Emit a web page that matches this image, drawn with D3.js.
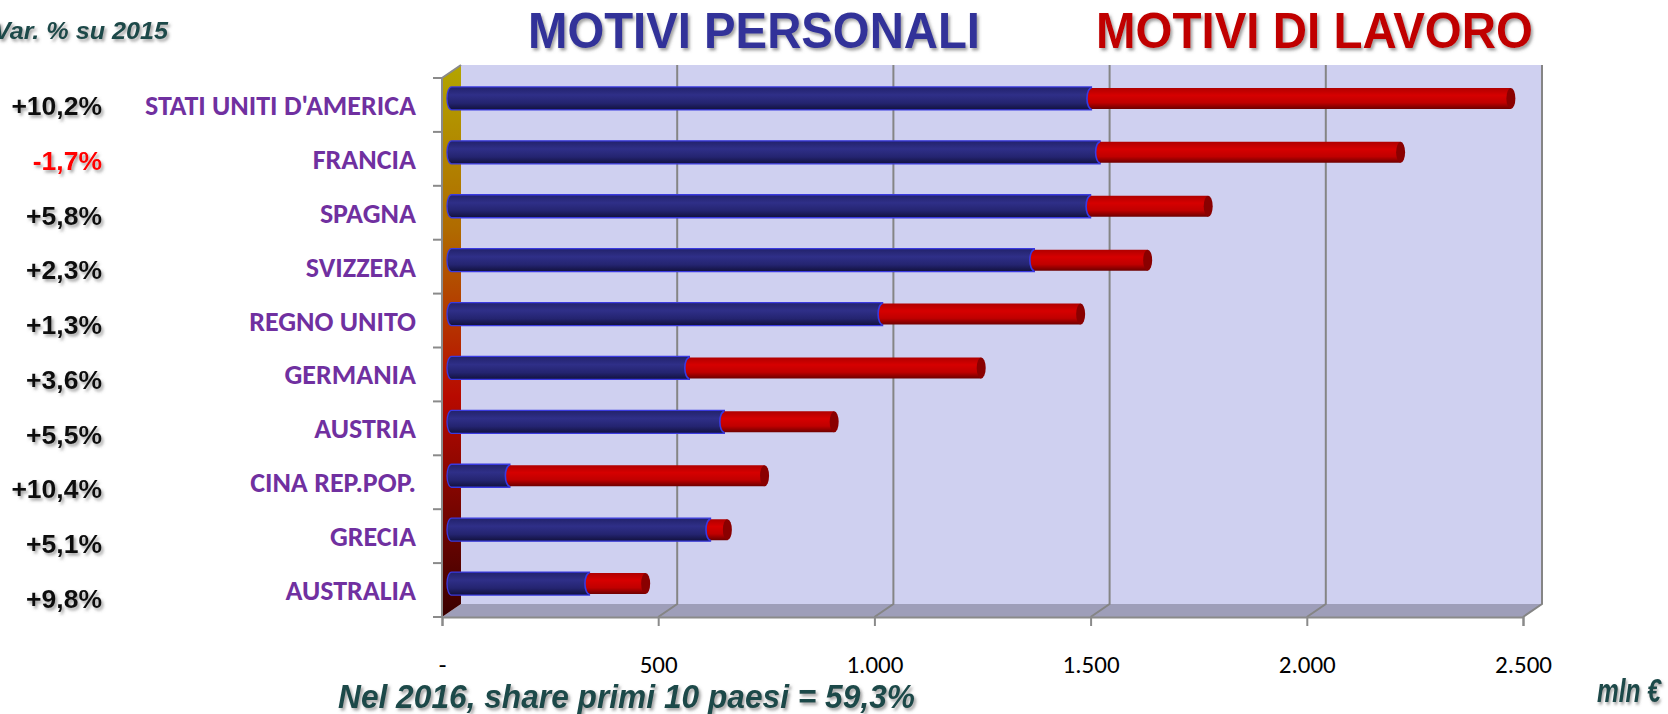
<!DOCTYPE html>
<html>
<head>
<meta charset="utf-8">
<script src="https://cdn.jsdelivr.net/npm/d3@7"></script>
<style>
	body { margin: 0; background: #fff; }
	svg { display: block; }
</style>
</head>
<body>
<svg id="chart" width="1668" height="714"></svg>
<script>
// Data (mln €)
const countries = ["STATI UNITI D'AMERICA", "FRANCIA", "SPAGNA", "SVIZZERA", "REGNO UNITO", "GERMANIA", "AUSTRIA", "CINA REP.POP.", "GRECIA", "AUSTRALIA"];
const personal = [1480, 1500, 1478, 1348, 997, 550, 631, 135, 599, 319];
const work = [970, 695, 272, 262, 458, 675, 254, 589, 39, 130];
const changes = ["+10,2%", "-1,7%", "+5,8%", "+2,3%", "+1,3%", "+3,6%", "+5,5%", "+10,4%", "+5,1%", "+9,8%"];
const tickValues = [0, 500, 1000, 1500, 2000, 2500];

const rows = countries.map((c, i) => ({ country: c, personal: personal[i], work: work[i], change: changes[i] }));

const svg = d3.select("#chart");

// 3d box geometry
const depthX = 19, depthY = -13;
const floorY = 617, topY = 78;

const x = d3.scaleLinear().domain([0, 2500]).range([442, 1523]);
const y = d3.scaleBand().domain(countries).range([topY, floorY]);
const yPct = d3.scalePoint().domain(countries).range([106, 599]);

const itLocale = d3.formatLocale({ decimal: ",", thousands: ".", grouping: [3], currency: ["", " €"] });
const fmt = (v) => (v === 0 ? "-" : itLocale.format(",")(v));

const defs = svg.append("defs");

const shadow = defs.append("filter").attr("id", "shadow").attr("x", "-10%").attr("y", "-20%").attr("width", "130%").attr("height", "160%");
shadow.append("feDropShadow").attr("dx", 2).attr("dy", 2.5).attr("stdDeviation", 1.5)
	.attr("flood-color", "#555").attr("flood-opacity", 0.55);

const sideGrad = defs.append("linearGradient").attr("id", "sideGrad").attr("x1", 0).attr("y1", 0).attr("x2", 0).attr("y2", 1);
[["0%", "#b3a500"], ["30%", "#b06a00"], ["60%", "#b80a00"], ["100%", "#3a0000"]].forEach(([o, c]) =>
	sideGrad.append("stop").attr("offset", o).attr("stop-color", c));

function cylGrad(id, stops) {
	const g = defs.append("linearGradient").attr("id", id).attr("x1", 0).attr("y1", 0).attr("x2", 0).attr("y2", 1);
	stops.forEach(([o, c]) => g.append("stop").attr("offset", o).attr("stop-color", c));
}
cylGrad("blueGrad", [["0%", "#22226a"], ["35%", "#2f2f88"], ["70%", "#242470"], ["100%", "#11113c"]]);
cylGrad("redGrad", [["0%", "#b00000"], ["35%", "#d60000"], ["70%", "#c00000"], ["100%", "#6e0000"]]);

// back wall
svg.append("rect")
	.attr("x", x(0) + depthX).attr("y", topY + depthY)
	.attr("width", x(2500) - x(0)).attr("height", floorY - topY)
	.attr("fill", "#cfd0f0");

// floor
svg.append("polygon")
	.attr("points", [[x(0), floorY], [x(0) + depthX, floorY + depthY], [x(2500) + depthX, floorY + depthY], [x(2500), floorY]].join(" "))
	.attr("fill", "#9e9eb9");

// side wall
svg.append("polygon")
	.attr("points", [[x(0), topY], [x(0) + depthX, topY + depthY], [x(0) + depthX, floorY + depthY], [x(0), floorY]].join(" "))
	.attr("fill", "url(#sideGrad)");

// gridlines on the back wall and across the floor
const grid = svg.append("g").attr("stroke", "#858585").attr("stroke-width", 2).attr("fill", "none");
grid.selectAll("path")
	.data(tickValues.slice(1))
	.enter()
	.append("path")
	.attr("d", (d) => `M${x(d) + depthX},${topY + depthY}V${floorY + depthY}L${x(d)},${floorY}`);

// outline of walls
svg.append("path")
	.attr("d", `M${x(0)},${floorY}V${topY}L${x(0) + depthX},${topY + depthY}`)
	.attr("stroke", "#8a8a8a").attr("stroke-width", 2).attr("fill", "none");

// front axis (bottom)
const xAxis = d3.axisBottom(x).tickValues(tickValues).tickFormat(fmt).tickSize(9).tickPadding(29);
const gx = svg.append("g").attr("transform", `translate(0,${floorY})`).call(xAxis);
gx.select(".domain").attr("stroke", "#8a8a8a").attr("stroke-width", 2);
gx.selectAll(".tick line").attr("stroke", "#8a8a8a").attr("stroke-width", 2);
gx.selectAll(".tick text")
	.attr("font-family", "Carlito, Lato, sans-serif").attr("font-size", 25).attr("fill", "#000");

// category ticks on the left edge
svg.append("g").selectAll("line")
	.data(countries.concat(["_end"]))
	.enter()
	.append("line")
	.attr("x1", x(0) - 9).attr("x2", x(0))
	.attr("y1", (d, i) => topY + i * y.step())
	.attr("y2", (d, i) => topY + i * y.step())
	.attr("stroke", "#8a8a8a").attr("stroke-width", 2);

// bars as cylinders, sitting half way in depth
const midX = (v) => x(v) + depthX / 2;
const barH = 23;
const rx = 4.5;
const barY = (d) => y(d.country) + y.bandwidth() / 2 + depthY / 2;

const bars = svg.append("g").selectAll("g")
	.data(rows)
	.enter()
	.append("g");

// blue body with rounded left end
bars.append("path")
	.attr("d", (d) => {
		const x0 = midX(0), x1 = midX(d.personal), t = barY(d) - barH / 2, b = barY(d) + barH / 2;
		return `M${x1},${t}H${x0}A${rx},${barH / 2} 0 0 0 ${x0},${b}H${x1}Z`;
	})
	.attr("fill", "url(#blueGrad)").attr("stroke", "#3a3ae0").attr("stroke-width", 1.3);

// red body: bulging left end, end face at right
bars.append("path")
	.attr("d", (d) => {
		const x0 = midX(d.personal), x1 = midX(d.personal + d.work), t = barY(d) - barH / 2 + 1, b = barY(d) + barH / 2 - 1;
		return `M${x0},${t}H${x1}V${b}H${x0}A${rx},${(b - t) / 2} 0 0 1 ${x0},${t}Z`;
	})
	.attr("fill", "url(#redGrad)");
bars.append("path")
	.attr("d", (d) => {
		const x0 = midX(d.personal), t = barY(d) - barH / 2 + 1, b = barY(d) + barH / 2 - 1;
		return `M${x0},${b}A${rx},${(b - t) / 2} 0 0 1 ${x0},${t}`;
	})
	.attr("fill", "none").attr("stroke", "#3a3ae0").attr("stroke-width", 1.6);
bars.append("ellipse")
	.attr("cx", (d) => midX(d.personal + d.work)).attr("cy", (d) => barY(d))
	.attr("rx", rx).attr("ry", barH / 2 - 1)
	.attr("fill", "#8a0000");

// country labels
svg.append("g").selectAll("text")
	.data(rows)
	.enter()
	.append("text")
	.attr("x", 416).attr("y", (d) => y(d.country) + y.bandwidth() / 2 + 10)
	.attr("text-anchor", "end")
	.attr("font-family", "Carlito, Lato, sans-serif").attr("font-weight", "bold").attr("font-size", 28)
	.attr("fill", "#7030a0")
	.text((d) => d.country);

// change labels
svg.append("g").selectAll("text")
	.data(rows)
	.enter()
	.append("text")
	.attr("x", 102).attr("y", (d) => yPct(d.country) + 9)
	.attr("text-anchor", "end")
	.attr("font-family", "Liberation Sans, Arial, sans-serif").attr("font-weight", "bold").attr("font-size", 26.5)
	.attr("fill", (d) => (d.change.startsWith("-") ? "#ff0000" : "#111"))
	.attr("filter", "url(#shadow)")
	.text((d) => d.change);

// titles
svg.append("text")
	.attr("x", 528).attr("y", 48).attr("textLength", 452).attr("lengthAdjust", "spacingAndGlyphs")
	.attr("font-family", "Liberation Sans, Arial, sans-serif").attr("font-weight", "bold").attr("font-size", 50)
	.attr("fill", "#333399").attr("filter", "url(#shadow)")
	.text("MOTIVI PERSONALI");
svg.append("text")
	.attr("x", 1096).attr("y", 48).attr("textLength", 437).attr("lengthAdjust", "spacingAndGlyphs")
	.attr("font-family", "Liberation Sans, Arial, sans-serif").attr("font-weight", "bold").attr("font-size", 50)
	.attr("fill", "#c00000").attr("filter", "url(#shadow)")
	.text("MOTIVI DI LAVORO");

const noteStyle = (sel) => sel
	.attr("font-family", "Liberation Sans, Arial, sans-serif").attr("font-weight", "bold").attr("font-style", "italic")
	.attr("fill", "#1f4a4a").attr("filter", "url(#shadow)").attr("lengthAdjust", "spacingAndGlyphs");

svg.append("text").call(noteStyle)
	.attr("x", -6).attr("y", 39).attr("font-size", 24).attr("textLength", 174)
	.text("Var. % su 2015");
svg.append("text").call(noteStyle)
	.attr("x", 338).attr("y", 708).attr("font-size", 33).attr("textLength", 577)
	.text("Nel 2016, share primi 10 paesi = 59,3%");
// narrow "mln €" squeezed with a transform so its box stays inside the page
svg.append("text").call(noteStyle)
	.attr("transform", "translate(1597,702) scale(0.72,1)")
	.attr("font-size", 34)
	.text("mln €");
</script>
</body>
</html>
